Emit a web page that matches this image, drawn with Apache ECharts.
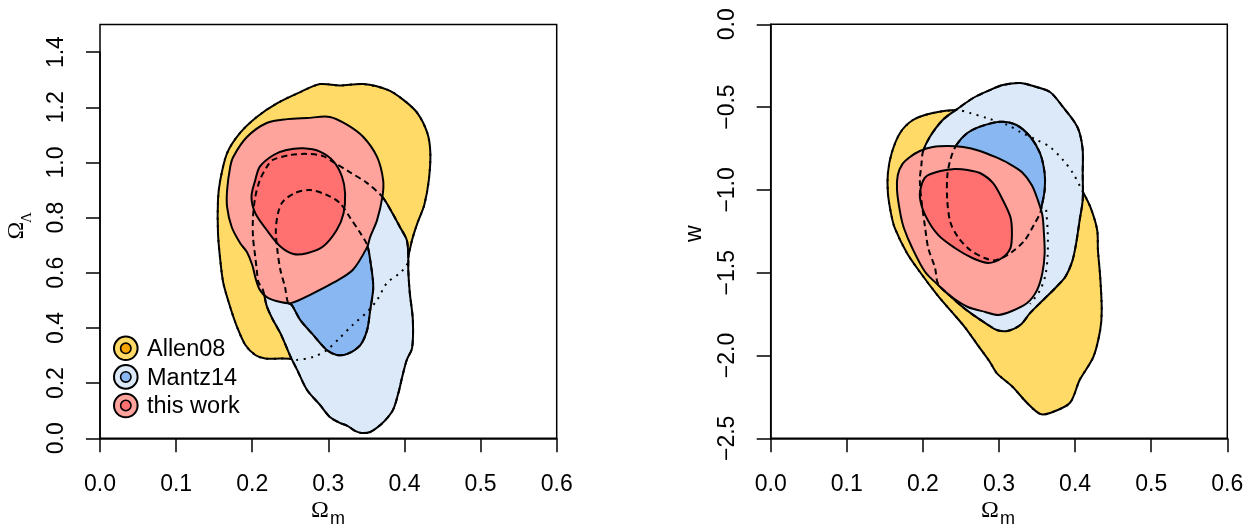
<!DOCTYPE html>
<html>
<head>
<meta charset="utf-8">
<script src="https://cdn.jsdelivr.net/npm/echarts@6/dist/echarts.min.js"></script>
<style>
html,body{margin:0;padding:0;background:#fff;}
#chart{width:1259px;height:527px;}
</style>
</head>
<body>
<div id="chart"></div>
<script>
// ---------- tick labels ----------
const xTicksOm = [0.0, 0.1, 0.2, 0.3, 0.4, 0.5, 0.6];
const yTicksOL = [0.0, 0.2, 0.4, 0.6, 0.8, 1.0, 1.2, 1.4];
const yTicksW  = [-2.5, -2.0, -1.5, -1.0, -0.5, 0.0];
const yRangeOL = [0.0, 1.5];          // plotting box of the left panel
const legendNames = ['Allen08', 'Mantz14', 'this work'];

// ---------- left panel: (Omega_m, Omega_Lambda) contours ----------
const allenOL95 = [[0.289,1.284],[0.315,1.279],[0.346,1.284],[0.378,1.263],[0.399,1.226],[0.417,1.179],[0.430,1.107],[0.434,1.034],[0.432,0.936],[0.426,0.846],[0.417,0.780],[0.410,0.719],[0.405,0.657],[0.403,0.628],[0.394,0.599],[0.377,0.563],[0.364,0.501],[0.351,0.458],[0.332,0.411],[0.315,0.364],[0.298,0.320],[0.280,0.295],[0.258,0.284],[0.250,0.288],[0.237,0.289],[0.217,0.289],[0.204,0.302],[0.191,0.338],[0.180,0.404],[0.171,0.476],[0.162,0.563],[0.158,0.646],[0.155,0.744],[0.155,0.864],[0.158,0.936],[0.167,1.034],[0.184,1.107],[0.206,1.165],[0.233,1.215],[0.263,1.255]];
const mantzOL95 = [[0.371,0.875],[0.384,0.817],[0.394,0.766],[0.403,0.719],[0.405,0.664],[0.405,0.610],[0.407,0.527],[0.411,0.429],[0.410,0.327],[0.403,0.284],[0.397,0.222],[0.392,0.164],[0.385,0.103],[0.374,0.063],[0.365,0.041],[0.355,0.023],[0.344,0.019],[0.335,0.027],[0.325,0.045],[0.315,0.056],[0.302,0.077],[0.289,0.121],[0.272,0.175],[0.259,0.248],[0.250,0.298],[0.238,0.375],[0.226,0.436],[0.219,0.480],[0.214,0.538],[0.208,0.567],[0.206,0.610],[0.204,0.657],[0.201,0.730],[0.201,0.802],[0.204,0.875],[0.210,0.936],[0.219,0.983],[0.227,1.009],[0.250,1.027],[0.272,1.031],[0.293,1.023],[0.306,1.002],[0.328,0.965],[0.351,0.925]];
const mantzOL68 = [[0.247,0.491],[0.243,0.549],[0.237,0.610],[0.233,0.683],[0.231,0.755],[0.234,0.817],[0.240,0.857],[0.256,0.889],[0.276,0.900],[0.298,0.882],[0.315,0.853],[0.328,0.802],[0.342,0.744],[0.351,0.701],[0.355,0.646],[0.359,0.549],[0.355,0.465],[0.351,0.393],[0.342,0.338],[0.325,0.306],[0.311,0.302],[0.298,0.320],[0.280,0.375],[0.263,0.429],[0.252,0.483]];
const thisOL95 = [[0.175,1.020],[0.193,1.092],[0.219,1.143],[0.246,1.157],[0.272,1.161],[0.302,1.165],[0.325,1.136],[0.346,1.092],[0.364,1.020],[0.372,0.936],[0.371,0.875],[0.364,0.791],[0.355,0.730],[0.351,0.693],[0.332,0.610],[0.306,0.563],[0.276,0.520],[0.252,0.491],[0.237,0.494],[0.219,0.512],[0.210,0.538],[0.205,0.574],[0.200,0.628],[0.193,0.675],[0.184,0.708],[0.173,0.766],[0.167,0.838],[0.167,0.900],[0.171,0.983]];
const thisOL68 = [[0.267,1.051],[0.289,1.039],[0.307,1.003],[0.318,0.948],[0.322,0.888],[0.320,0.816],[0.311,0.755],[0.293,0.695],[0.272,0.671],[0.254,0.668],[0.237,0.695],[0.219,0.755],[0.204,0.816],[0.199,0.876],[0.204,0.936],[0.210,0.985],[0.228,1.027],[0.245,1.045]];

// ---------- right panel: (Omega_m, w) contours ----------
const allenW95 = [[0.245,-0.518],[0.213,-0.536],[0.187,-0.578],[0.170,-0.656],[0.159,-0.777],[0.154,-0.898],[0.154,-1.019],[0.158,-1.140],[0.163,-1.230],[0.179,-1.381],[0.198,-1.508],[0.219,-1.635],[0.238,-1.737],[0.255,-1.828],[0.272,-1.937],[0.288,-2.039],[0.297,-2.106],[0.318,-2.190],[0.337,-2.287],[0.354,-2.353],[0.367,-2.347],[0.393,-2.287],[0.406,-2.148],[0.424,-2.009],[0.433,-1.846],[0.435,-1.725],[0.433,-1.526],[0.430,-1.363],[0.429,-1.242],[0.420,-1.103],[0.409,-1.001],[0.397,-0.898],[0.384,-0.819],[0.367,-0.741],[0.350,-0.699],[0.328,-0.650],[0.311,-0.608],[0.284,-0.566],[0.262,-0.536]];
const allenWEdge = [[0.362,-1.121],[0.364,-1.254],[0.364,-1.393],[0.361,-1.514],[0.354,-1.605],[0.341,-1.689]];
const mantzW95 = [[0.200,-0.771],[0.209,-0.681],[0.226,-0.578],[0.245,-0.512],[0.266,-0.445],[0.288,-0.397],[0.305,-0.367],[0.328,-0.354],[0.345,-0.373],[0.367,-0.409],[0.384,-0.499],[0.400,-0.596],[0.406,-0.656],[0.410,-0.759],[0.410,-0.898],[0.410,-1.061],[0.406,-1.182],[0.401,-1.333],[0.396,-1.435],[0.387,-1.526],[0.374,-1.592],[0.358,-1.665],[0.341,-1.743],[0.328,-1.816],[0.311,-1.852],[0.297,-1.846],[0.284,-1.810],[0.266,-1.755],[0.249,-1.695],[0.236,-1.641],[0.220,-1.568],[0.216,-1.472],[0.207,-1.351],[0.203,-1.230],[0.198,-1.061],[0.196,-0.940],[0.198,-0.850]];
const mantzW68 = [[0.244,-0.729],[0.258,-0.658],[0.275,-0.618],[0.301,-0.588],[0.323,-0.608],[0.341,-0.679],[0.354,-0.779],[0.360,-0.900],[0.360,-1.001],[0.356,-1.101],[0.354,-1.141],[0.347,-1.202],[0.334,-1.303],[0.317,-1.375],[0.297,-1.423],[0.282,-1.413],[0.262,-1.363],[0.246,-1.284],[0.236,-1.194],[0.232,-1.061],[0.232,-0.920],[0.236,-0.819]];
const thisW95 = [[0.183,-0.801],[0.196,-0.765],[0.213,-0.741],[0.232,-0.735],[0.253,-0.741],[0.275,-0.765],[0.295,-0.801],[0.312,-0.838],[0.330,-0.892],[0.343,-0.970],[0.351,-1.061],[0.357,-1.152],[0.359,-1.260],[0.360,-1.381],[0.357,-1.502],[0.350,-1.605],[0.337,-1.683],[0.317,-1.731],[0.299,-1.755],[0.282,-1.737],[0.259,-1.707],[0.238,-1.647],[0.220,-1.574],[0.203,-1.496],[0.186,-1.351],[0.175,-1.230],[0.170,-1.134],[0.166,-1.001],[0.167,-0.910],[0.173,-0.844]];
const thisW68 = [[0.205,-0.916],[0.223,-0.886],[0.242,-0.874],[0.259,-0.880],[0.275,-0.898],[0.292,-0.958],[0.305,-1.061],[0.315,-1.164],[0.317,-1.260],[0.315,-1.351],[0.304,-1.411],[0.286,-1.441],[0.265,-1.411],[0.242,-1.351],[0.220,-1.272],[0.203,-1.152],[0.196,-1.043],[0.199,-0.958]];

// ---------- styling ----------
const C = {
  allen: '#FFDA66', allenDot: '#F5A400',
  mantz95: '#DCE9F8', mantz68: '#88B7F1',
  this95: '#FFA39D', this68: '#FF7171'
};
const SANS = "'Liberation Sans', Arial, Helvetica, sans-serif";
const SERIF = "'Liberation Serif', 'DejaVu Serif', serif";
const FS = 23;
const SMOOTH = 0.3;
const DASH = [6, 4];
const DOT = [2, 5.5];

let zc = 10;
function contour(pts, ax, fill, dash, closed) {
  const z = zc++;
  return {
    type: 'custom', coordinateSystem: 'cartesian2d',
    xAxisIndex: ax, yAxisIndex: ax, data: pts, z: z,
    silent: true, animation: false, clip: true,
    renderItem: function (params, api) {
      if (params.dataIndex !== 0) return null;
      const p = pts.map(function (d) { return api.coord(d); });
      return {
        type: closed === false ? 'polyline' : 'polygon',
        shape: { points: p, smooth: SMOOTH },
        style: {
          fill: fill || 'none', stroke: '#000', lineWidth: 2,
          lineDash: dash || null, lineJoin: 'round'
        }
      };
    }
  };
}

function fmt(v) {
  const s = Math.abs(v).toFixed(1);
  return (v < -1e-9 ? '\u2212' : '') + s;
}

const axLine = { show: true, onZero: false, lineStyle: { color: '#000', width: 1.5 } };
const axTick = { show: true, length: 14, lineStyle: { color: '#000', width: 1.5 } };
function xLab() { return { margin: 35, fontSize: FS, lineHeight: FS, color: '#000', fontFamily: SANS, formatter: fmt }; }
function yLab() { return { margin: 32, rotate: 90, fontSize: FS, lineHeight: FS, color: '#000', fontFamily: SANS, formatter: fmt }; }

const panels = [
  { left: 100, top: 24.5, width: 456.7, height: 413.8 },
  { left: 770.7, top: 24.3, width: 456.6, height: 414 }
];
// grid for left y-axis: spans only the tick range 0..1.4 of the left box
const pxPerOL = panels[0].height / (yRangeOL[1] - yRangeOL[0]);
const axisOLgrid = {
  left: panels[0].left,
  top: panels[0].top + (yRangeOL[1] - yTicksOL[yTicksOL.length - 1]) * pxPerOL,
  width: panels[0].width,
  height: (yTicksOL[yTicksOL.length - 1] - yTicksOL[0]) * pxPerOL
};

function gridOf(g, border) {
  return {
    left: g.left, top: g.top, width: g.width, height: g.height,
    show: border, borderColor: '#000', borderWidth: 1.5, backgroundColor: 'transparent',
    containLabel: false
  };
}

const xMin = xTicksOm[0], xMax = xTicksOm[xTicksOm.length - 1], xInt = +(xTicksOm[1] - xTicksOm[0]).toFixed(2);
const hiddenAxis = { show: false, axisLine: { onZero: false } };

const option = {
  backgroundColor: '#fff',
  animation: false,
  grid: [gridOf(panels[0], true), gridOf(axisOLgrid, false), gridOf(panels[1], true)],
  xAxis: [
    { gridIndex: 0, type: 'value', min: xMin, max: xMax, interval: xInt, position: 'bottom',
      axisLine: axLine, axisTick: axTick, axisLabel: xLab(), splitLine: { show: false } },
    Object.assign({ gridIndex: 1, type: 'value', min: xMin, max: xMax }, hiddenAxis),
    { gridIndex: 2, type: 'value', min: xMin, max: xMax, interval: xInt, position: 'bottom',
      axisLine: axLine, axisTick: axTick, axisLabel: xLab(), splitLine: { show: false } }
  ],
  yAxis: [
    Object.assign({ gridIndex: 0, type: 'value', min: yRangeOL[0], max: yRangeOL[1] }, hiddenAxis),
    { gridIndex: 1, type: 'value', min: yTicksOL[0], max: yTicksOL[yTicksOL.length - 1], position: 'left',
      interval: +(yTicksOL[1] - yTicksOL[0]).toFixed(2),
      axisLine: axLine, axisTick: axTick, axisLabel: yLab(), splitLine: { show: false } },
    { gridIndex: 2, type: 'value', min: yTicksW[0], max: yTicksW[yTicksW.length - 1], position: 'left',
      interval: +(yTicksW[1] - yTicksW[0]).toFixed(2),
      axisLine: axLine, axisTick: axTick, axisLabel: yLab(), splitLine: { show: false } }
  ],
  series: [
    // left panel
    contour(allenOL95, 0, C.allen),
    contour(mantzOL95, 0, C.mantz95),
    contour(mantzOL68, 0, C.mantz68),
    contour(thisOL95, 0, C.this95),
    contour(thisOL68, 0, C.this68),
    contour(mantzOL95, 0, null, DASH),
    contour(mantzOL68, 0, null, DASH),
    contour(allenOL95, 0, null, DOT),
    // right panel
    contour(allenW95, 2, C.allen),
    contour(mantzW95, 2, C.mantz95),
    contour(mantzW68, 2, C.mantz68),
    contour(thisW95, 2, C.this95),
    contour(thisW68, 2, C.this68),
    contour(mantzW95, 2, null, DASH),
    contour(mantzW68, 2, null, DASH),
    contour(allenW95, 2, null, DOT),
    contour(allenWEdge, 2, null, DOT, false)
  ],
  graphic: []
};

// axis titles
function txt(x, y, text, size, family, rot) {
  return {
    type: 'text', x: x, y: y, rotation: rot || 0, silent: true, z: 100,
    style: { text: text, fontSize: size, fontFamily: family, fill: '#000',
             align: 'left', verticalAlign: 'bottom', textAlign: 'left', textVerticalAlign: 'bottom', lineHeight: size }
  };
}
option.graphic.push(
  txt(311, 522.7, 'Ω', 24, SERIF),
  txt(330, 528.4, 'm', 18, SANS),
  txt(981, 522.7, 'Ω', 24, SERIF),
  txt(1000, 528.4, 'm', 18, SANS),
  txt(28.4, 239.5, 'Ω', 24, SERIF, Math.PI / 2),
  txt(34.5, 223, 'Λ', 15, SERIF, Math.PI / 2),
  txt(706, 242, 'w', FS, SANS, Math.PI / 2)
);

// legend
const legFill = [[C.allen, C.allenDot], [C.mantz95, C.mantz68], [C.this95, C.this68]];
const legY = [348.3, 376.9, 405.5];
legendNames.forEach(function (n, i) {
  option.graphic.push(
    { type: 'circle', silent: true, z: 100, shape: { cx: 125.8, cy: legY[i], r: 11.8 },
      style: { fill: legFill[i][0], stroke: '#000', lineWidth: 2 } },
    { type: 'circle', silent: true, z: 101, shape: { cx: 125.8, cy: legY[i], r: 5.2 },
      style: { fill: legFill[i][1], stroke: '#000', lineWidth: 1.6 } },
    { type: 'text', silent: true, z: 101, x: 147, y: legY[i] + 1.3,
      style: { text: n, fontSize: 23.5, fontFamily: SANS, fill: '#000',
               align: 'left', verticalAlign: 'middle', textAlign: 'left', textVerticalAlign: 'middle' } }
  );
});

const chart = echarts.init(document.getElementById('chart'), null, { renderer: 'canvas' });
chart.setOption(option);
</script>
</body>
</html>
